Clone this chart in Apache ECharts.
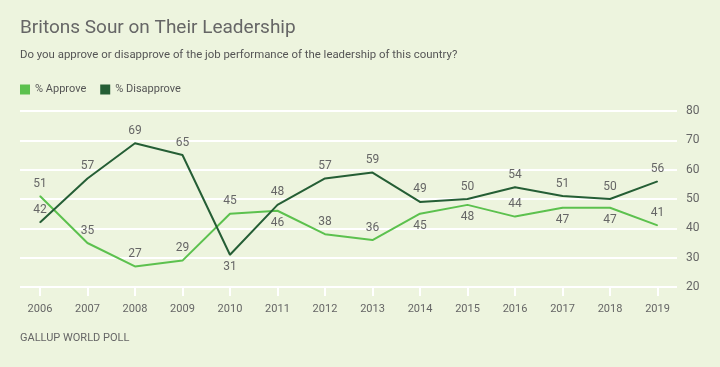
<!DOCTYPE html>
<html><head><meta charset="utf-8">
<script src="https://cdn.jsdelivr.net/npm/echarts@6/dist/echarts.min.js"></script>
<style>html,body{margin:0;padding:0;background:#EDF4DE;}#c{width:720px;height:367px;}</style>
</head><body><div id="c"></div>
<script>
const years = [2006,2007,2008,2009,2010,2011,2012,2013,2014,2015,2016,2017,2018,2019];
const approve = [51,35,27,29,45,46,38,36,45,48,44,47,47,41];
const disapprove = [42,57,69,65,31,48,57,59,49,50,54,51,50,56];
const yTicks = [20,30,40,50,60,70,80];

const cA = '#5CC14E', cD = '#255E35';
function apPos(i){ const d = disapprove[i]-approve[i]; return (d>0 && d<=5) ? 'bottom' : 'top'; }
function dsPos(i){ return (approve[i]-disapprove[i] > 10) ? 'bottom' : 'top'; }
const lbl = {color:'#666', fontSize:12, fontFamily:'Roboto', distance:6};

const chart = echarts.init(document.getElementById('c'));
chart.setOption({
  backgroundColor:'#EDF4DE',
  animation:false,
  title:[
    {text:'Britons Sour on Their Leadership', left:20, top:19, padding:0, textStyle:{fontFamily:'Roboto', fontWeight:'normal', fontSize:19, color:'#666'}},
    {text:'Do you approve or disapprove of the job performance of the leadership of this country?', left:20, top:50, padding:0, textStyle:{fontFamily:'Roboto', fontWeight:'normal', fontSize:11.4, color:'#555'}},
    {text:'GALLUP WORLD POLL', left:20, top:333, padding:0, textStyle:{fontFamily:'Roboto', fontWeight:'normal', fontSize:11, color:'#666', letterSpacing:0.6}}
  ],
  legend:{left:20, top:84, padding:0, itemWidth:10, itemHeight:10, itemGap:14, icon:'rect',
    textStyle:{fontFamily:'Roboto', fontSize:11, color:'#555'},
    data:[{name:'% Approve', itemStyle:{color:cA}},{name:'% Disapprove', itemStyle:{color:cD}}]},
  grid:{left:20, right:43, top:111, bottom:80},
  xAxis:{type:'value', min:2005.58, max:2019.41,
    axisLine:{show:false}, splitLine:{show:false},
    axisTick:{show:true, customValues:years, length:9, lineStyle:{color:'#fff', width:2}},
    axisLabel:{customValues:years, color:'#666', fontFamily:'Roboto', fontSize:11, margin:17, formatter:v=>String(v)}},
  yAxis:{type:'value', position:'right', min:20, max:80, interval:10,
    axisLine:{show:false}, axisTick:{show:false},
    axisLabel:{color:'#666', fontFamily:'Roboto', fontSize:12, margin:9,
      customValues:yTicks},
    splitLine:{lineStyle:{color:'#fff', width:2}}},
  series:[
    {name:'% Approve', type:'line', color:cA, symbol:'circle', symbolSize:1, showSymbol:true,
      itemStyle:{color:cA}, lineStyle:{width:2, color:cA},
      data: approve.map((v,i)=>({value:[years[i],v], label:Object.assign({show:true, position:apPos(i)}, lbl)})),
      z:3},
    {name:'% Disapprove', type:'line', color:cD, symbol:'circle', symbolSize:1, showSymbol:true,
      itemStyle:{color:cD}, lineStyle:{width:2, color:cD},
      data: disapprove.map((v,i)=>({value:[years[i],v], label:Object.assign({show:true, position:dsPos(i)}, lbl)})),
      z:4}
  ]
});
</script></body></html>
